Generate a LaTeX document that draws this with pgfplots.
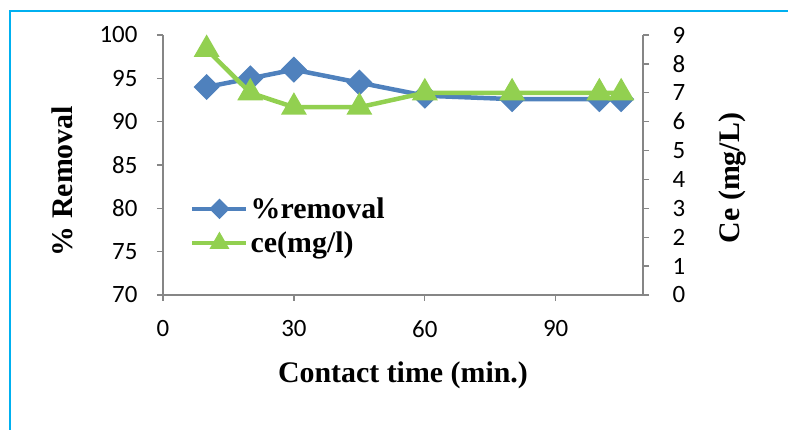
\documentclass[border=0pt]{standalone}
\usepackage{fontspec}
\setmainfont{Liberation Serif}
\newfontfamily\calibri{Carlito}
\usepackage{pgfplots}
\pgfplotsset{compat=1.18}

\definecolor{exblue}{HTML}{4F81BD}
\definecolor{exgreen}{HTML}{92D050}
\definecolor{exgray}{HTML}{868686}
\definecolor{exframe}{HTML}{00B0F0}

\pgfplotsset{
  common/.style={
    scale only axis,
    width=480bp, height=260bp,
    xmin=0, xmax=110,
    axis line style={exgray, line width=1.3bp},
    tick style={exgray, line width=1.3bp},
    tick align=outside,
    major tick length=6bp,
    /pgf/number format/assume math mode=true,
    ticklabel style={font=\calibri\fontsize{25}{30}\selectfont},
    clip=false,
  },
}

\begin{document}
\begin{tikzpicture}
\path[use as bounding box] (-163bp,-135bp) rectangle (625bp,295bp);
\draw[exframe, line width=2bp] (-153bp,-140bp) -- (-153bp,284bp) -- (630bp,284bp);

\begin{axis}[common,
    axis x line*=bottom, axis y line*=left,
    xtick={0,30,60,90},
    ymin=70, ymax=100, ytick={70,75,...,100},
    yticklabel style={xshift=-16bp},
    xticklabel style={yshift=-16bp},
  ]
  \addplot[exblue, line width=4.5bp, mark=square*,
    mark options={rotate=45, solid}, mark size=7bp]
    coordinates {(10,94) (20,95) (30,96) (45,94.5) (60,93) (80,92.6) (100,92.6) (105,92.6)};
\end{axis}

\begin{axis}[common,
    axis x line=none, axis y line*=right,
    ymin=0, ymax=9, ytick={0,1,...,9},
    yticklabel style={xshift=20bp},
    legend style={draw=none, fill=none, at={(0.05,0.39)}, anchor=north west,
      font=\bfseries\fontsize{30}{34}\selectfont, row sep=8bp,
      /tikz/every even column/.append style={column sep=0bp}},
    legend cell align=left,
    legend image code/.code={
      \draw[#1, mark repeat=2, mark phase=2]
        plot coordinates {(0bp,0bp) (27bp,0bp) (54bp,0bp)};},
  ]
  \addlegendimage{exblue, line width=4.5bp, mark=square*,
    mark options={rotate=45, solid}, mark size=5bp}
  \addlegendentry{\%removal}
  \addlegendimage{exgreen, line width=4.5bp, mark=triangle*,
    mark options={solid}, mark size=7bp}
  \addlegendentry{ce(mg/l)}
  \addplot[exgreen, line width=4.5bp, mark=triangle*,
    mark options={solid}, mark size=10.5bp, forget plot]
    coordinates {(10,8.5) (20,7) (30,6.5) (45,6.5) (60,7) (80,7) (100,7) (105,7)};
\end{axis}

\node[font=\bfseries\fontsize{30}{34}\selectfont] at (240bp,-80bp) {Contact time (min.)};
\node[font=\bfseries\fontsize{30}{34}\selectfont, rotate=90] at (-101bp,114bp) {\% Removal};
\node[font=\bfseries\fontsize{30}{34}\selectfont, rotate=90] at (569bp,117bp) {Ce (mg/L)};
\end{tikzpicture}
\end{document}
